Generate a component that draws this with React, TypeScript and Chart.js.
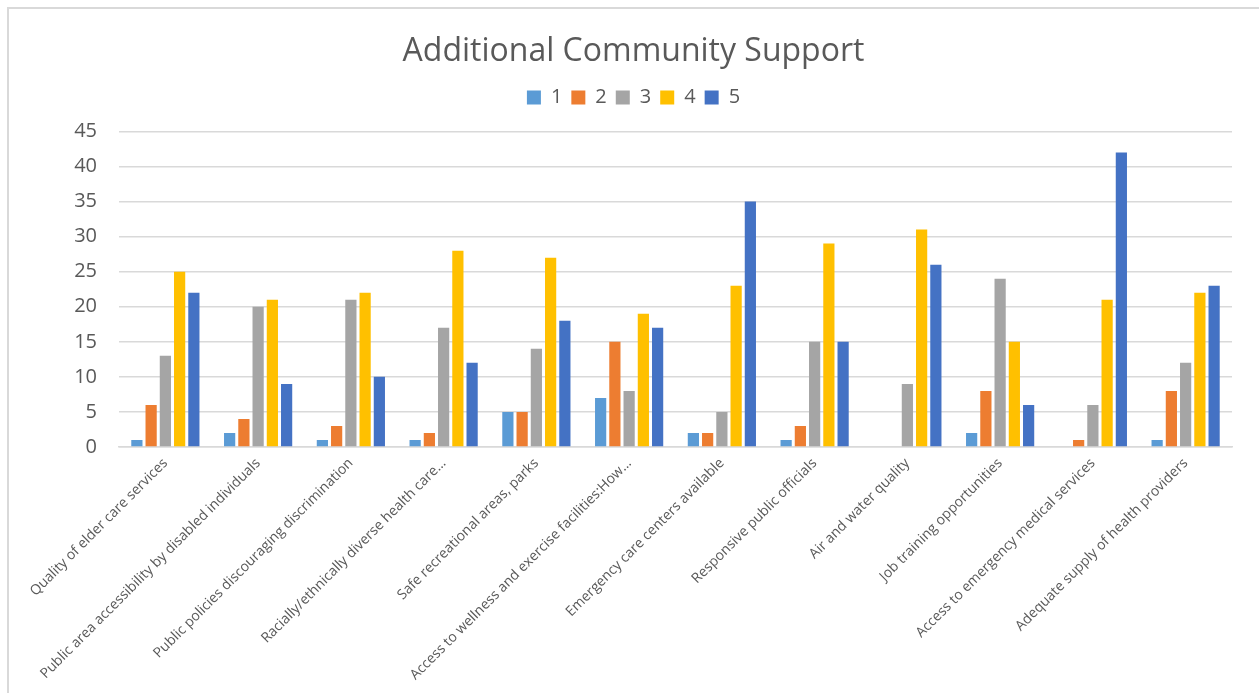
import React, { useEffect, useRef } from "react";
import { Chart, registerables } from "chart.js";

Chart.register(...registerables);

const chartTitle = "Additional Community Support";

const categories = [
  "Quality of elder care services",
  "Public area accessibility by disabled individuals",
  "Public policies discouraging discrimination",
  "Racially/ethnically diverse health care…",
  "Safe recreational areas, parks",
  "Access to wellness and exercise facilities:How…",
  "Emergency care centers available",
  "Responsive public officials",
  "Air and water quality",
  "Job training opportunities",
  "Access to emergency medical services",
  "Adequate supply of health providers",
];

const seriesNames = ["1", "2", "3", "4", "5"];
const series1 = [1, 2, 1, 1, 5, 7, 2, 1, 0, 2, 0, 1];
const series2 = [6, 4, 3, 2, 5, 15, 2, 3, 0, 8, 1, 8];
const series3 = [13, 20, 21, 17, 14, 8, 5, 15, 9, 24, 6, 12];
const series4 = [25, 21, 22, 28, 27, 19, 23, 29, 31, 15, 21, 22];
const series5 = [22, 9, 10, 12, 18, 17, 35, 15, 26, 6, 42, 23];
const seriesColors = ["#5B9BD5", "#ED7D31", "#A5A5A5", "#FFC000", "#4472C4"];

const yMin = 0;
const yMax = 45;
const yStep = 5;

const FONT = "'Open Sans', 'DejaVu Sans', sans-serif";
const TEXT = "#595959";
const GRID = "#D9D9D9";

export default function App() {
  const canvasRef = useRef<HTMLCanvasElement | null>(null);

  useEffect(() => {
    if (!canvasRef.current) return;
    const allSeries = [series1, series2, series3, series4, series5];
    const chart = new Chart(canvasRef.current, {
      type: "bar",
      data: {
        labels: categories,
        datasets: allSeries.map((d, i) => ({
          label: seriesNames[i],
          data: d,
          backgroundColor: seriesColors[i],
          borderWidth: 0,
          categoryPercentage: 0.768,
          barPercentage: 0.787,
        })),
      },
      options: {
        responsive: false,
        animation: false,
        layout: { padding: 0 },
        plugins: {
          title: {
            display: true,
            text: chartTitle,
            color: TEXT,
            font: { family: FONT, size: 32, weight: "normal", lineHeight: 1.2 },
            padding: { top: 25, bottom: 7 },
          },
          legend: {
            display: true,
            position: "top",
            weight: 1800,
            labels: {
              color: TEXT,
              font: { family: FONT, size: 20 },
              boxWidth: 14,
              boxHeight: 14,
              padding: 9,
            },
          },
          subtitle: {
            display: true,
            text: "",
            font: { size: 10, lineHeight: 1.4 },
            padding: 0,
          },
          tooltip: { enabled: false },
        },
        scales: {
          x: {
            grid: { display: false, drawTicks: false },
            border: { display: true, color: GRID, width: 1.5 },
            ticks: {
              color: TEXT,
              font: { family: FONT, size: 14 },
              minRotation: 45,
              maxRotation: 45,
              autoSkip: false,
              padding: 8,
            },
            afterFit: (scale: any) => {
              scale.height = 246;
            },
          },
          y: {
            min: yMin,
            max: yMax,
            grid: { color: GRID, lineWidth: 1.5, drawTicks: false },
            border: { display: false },
            ticks: {
              stepSize: yStep,
              color: TEXT,
              font: { family: FONT, size: 20 },
              padding: 22,
            },
            afterFit: (scale: any) => {
              scale.width = 111;
            },
          },
          yRightSpace: {
            position: "right",
            display: true,
            grid: { display: false, drawTicks: false },
            border: { display: false },
            ticks: { display: false },
            afterFit: (scale: any) => {
              scale.width = 27;
            },
          },
        },
      },
    });
    return () => chart.destroy();
  }, []);

  return (
    <div
      style={{
        position: "fixed",
        left: 0,
        top: 0,
        width: 1259,
        height: 693,
        overflow: "hidden",
        background: "#ffffff",
      }}
    >
      <div
        style={{
          position: "absolute",
          left: 7,
          top: 7,
          width: 1300,
          height: 800,
          border: `2px solid ${GRID}`,
          boxSizing: "border-box",
        }}
      />
      <canvas
        ref={canvasRef}
        width={1251}
        height={685}
        style={{ position: "absolute", left: 8, top: 8, width: 1251, height: 685 }}
      />
    </div>
  );
}
